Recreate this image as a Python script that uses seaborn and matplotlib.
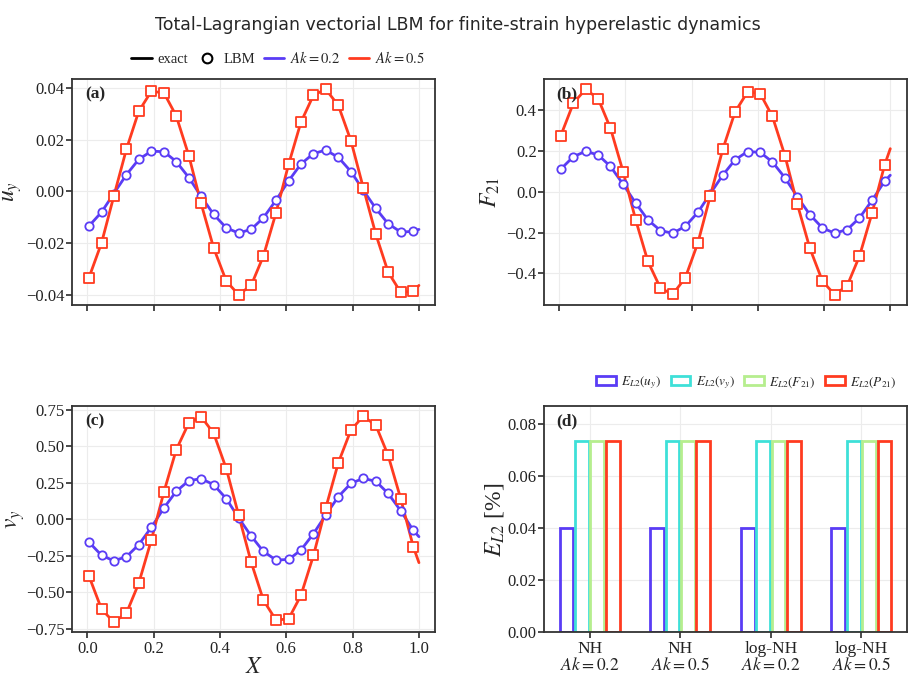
import numpy as np
import pandas as pd
import matplotlib
matplotlib.use("Agg")
import matplotlib.pyplot as plt
from matplotlib.lines import Line2D
from matplotlib.patches import Patch
from matplotlib.ticker import FuncFormatter
import seaborn as sns

# marker positions (LBM samples) and end of exact curve
x_lbm = [0.005, 0.043, 0.080, 0.118, 0.155, 0.193, 0.231, 0.268, 0.306, 0.343,
         0.381, 0.419, 0.456, 0.494, 0.531, 0.569, 0.607, 0.644, 0.682, 0.719,
         0.757, 0.795, 0.832, 0.870, 0.907, 0.945, 0.983]
x_end = 1.0

# (a) u_y
uy_02 = [-0.0134, -0.0080, -0.0008, 0.0065, 0.0124, 0.0156, 0.0154, 0.0116, 0.0054,
         -0.0019, -0.0089, -0.0141, -0.0161, -0.0147, -0.0102, -0.0034, 0.0041, 0.0106,
         0.0147, 0.0160, 0.0132, 0.0077, 0.0005, -0.0066, -0.0125, -0.0157, -0.0155]
uy_02_end = -0.0147
uy_05 = [-0.0334, -0.0199, -0.0018, 0.0164, 0.0310, 0.0388, 0.0382, 0.0293, 0.0139,
         -0.0046, -0.0219, -0.0347, -0.0400, -0.0364, -0.0250, -0.0083, 0.0105, 0.0268,
         0.0373, 0.0396, 0.0333, 0.0196, 0.0015, -0.0166, -0.0312, -0.0391, -0.0386]
uy_05_end = -0.0364

# (b) F_21
f21_02 = [0.111, 0.172, 0.198, 0.180, 0.124, 0.037, -0.055, -0.138, -0.190, -0.203,
          -0.169, -0.101, -0.010, 0.081, 0.156, 0.197, 0.193, 0.146, 0.068, -0.024,
          -0.112, -0.177, -0.203, -0.185, -0.128, -0.042, 0.052]
f21_02_end = 0.081
f21_05 = [0.275, 0.434, 0.502, 0.455, 0.311, 0.099, -0.137, -0.341, -0.472, -0.502,
          -0.421, -0.250, -0.023, 0.207, 0.390, 0.489, 0.481, 0.369, 0.176, -0.059,
          -0.276, -0.437, -0.504, -0.459, -0.315, -0.104, 0.132]
f21_05_end = 0.211

# (c) v_y
vy_02 = [-0.156, -0.247, -0.284, -0.256, -0.174, -0.055, 0.078, 0.192, 0.265, 0.279,
         0.238, 0.142, 0.011, -0.114, -0.220, -0.279, -0.275, -0.211, -0.098, 0.030,
         0.156, 0.247, 0.281, 0.261, 0.178, 0.059, -0.076]
vy_02_end = -0.119
vy_05 = [-0.389, -0.616, -0.705, -0.643, -0.439, -0.142, 0.188, 0.476, 0.661, 0.705,
         0.590, 0.348, 0.032, -0.293, -0.554, -0.691, -0.682, -0.522, -0.247, 0.078,
         0.389, 0.613, 0.707, 0.645, 0.439, 0.142, -0.188]
vy_05_end = -0.297

# (d) errors
cases = ["NH\n$Ak=0.2$", "NH\n$Ak=0.5$", "log-NH\n$Ak=0.2$", "log-NH\n$Ak=0.5$"]
metrics = ["$E_{L2}(u_y)$", "$E_{L2}(v_y)$", "$E_{L2}(F_{21})$", "$E_{L2}(P_{21})$"]
err_uy = [0.040, 0.040, 0.040, 0.040]
err_vy = [0.0735, 0.0735, 0.0735, 0.0735]
err_f21 = [0.0735, 0.0735, 0.0735, 0.0735]
err_p21 = [0.0735, 0.0735, 0.0735, 0.0735]

c_blue = "#5a3cf5"
c_red = "#ff3b20"
bar_colors = ["#5a3cf5", "#3ee0d8", "#b6ee8e", "#ff3b20"]

sns.set_theme(style="whitegrid")
plt.rcParams.update({
    "font.family": "serif",
    "font.serif": ["Liberation Serif", "DejaVu Serif"],
    "mathtext.fontset": "stix",
    "axes.edgecolor": "#333333",
    "axes.linewidth": 1.3,
    "grid.color": "#ececec",
    "grid.linewidth": 0.8,
    "xtick.bottom": True,
    "ytick.left": True,
    "xtick.major.size": 4,
    "ytick.major.size": 4,
    "xtick.major.pad": 2,
    "ytick.major.pad": 1.5,
    "xtick.color": "#333333",
    "ytick.color": "#333333",
    "xtick.labelcolor": "#222222",
    "ytick.labelcolor": "#222222",
    "xtick.labelsize": 12,
    "ytick.labelsize": 12,
})


def fmt(nd):
    return FuncFormatter(lambda v, p: f"{v:.{nd}f}".replace("-", "\u2212"))


fig = plt.figure(figsize=(9.15, 6.8), dpi=100)
ax_a = fig.add_axes([0.0792, 0.5515, 0.3967, 0.3324])
ax_b = fig.add_axes([0.5949, 0.5515, 0.3961, 0.3324], sharex=ax_a)
ax_c = fig.add_axes([0.0792, 0.0699, 0.3967, 0.3331], sharex=ax_a)
ax_d = fig.add_axes([0.5949, 0.0699, 0.3961, 0.3331])


def draw_panel(ax, y02, y02_end, y05, y05_end):
    for y, yend, col, mk, ms in [(y02, y02_end, c_blue, "o", 36),
                                 (y05, y05_end, c_red, "s", 42)]:
        sns.lineplot(x=x_lbm + [x_end], y=y + [yend], color=col, lw=2.0,
                     sort=False, ax=ax, zorder=2)
        sns.scatterplot(x=x_lbm, y=y, marker=mk, s=ms, facecolor="white",
                        edgecolor=col, linewidth=1.3, ax=ax, zorder=3)


draw_panel(ax_a, uy_02, uy_02_end, uy_05, uy_05_end)
draw_panel(ax_b, f21_02, f21_02_end, f21_05, f21_05_end)
draw_panel(ax_c, vy_02, vy_02_end, vy_05, vy_05_end)

ax_a.set_ylabel("$u_y$", fontsize=17)
ax_b.set_ylabel("$F_{21}$", fontsize=17)
ax_c.set_ylabel("$v_y$", fontsize=17)
ax_c.set_xlabel("$X$", fontsize=17, labelpad=0)
ax_a.yaxis.set_label_coords(-0.134, 0.5)
ax_c.yaxis.set_label_coords(-0.126, 0.5)
ax_b.yaxis.set_label_coords(-0.117, 0.5)
ax_a.set_xticks([0.0, 0.2, 0.4, 0.6, 0.8, 1.0])
ax_a.set_yticks([-0.04, -0.02, 0.0, 0.02, 0.04])
ax_b.set_yticks([-0.4, -0.2, 0.0, 0.2, 0.4])
ax_c.set_yticks([-0.75, -0.5, -0.25, 0.0, 0.25, 0.5, 0.75])
ax_a.yaxis.set_major_formatter(fmt(2))
ax_b.yaxis.set_major_formatter(fmt(1))
ax_c.yaxis.set_major_formatter(fmt(2))
ax_c.xaxis.set_major_formatter(fmt(1))
ax_a.tick_params(labelbottom=False)
ax_b.tick_params(labelbottom=False)
ax_a.set_xlabel("")
ax_b.set_xlabel("")

# (d) bars
df = pd.DataFrame({
    "case": cases * 4,
    "metric": [m for m in metrics for _ in cases],
    "err": err_uy + err_vy + err_f21 + err_p21,
})
sns.barplot(data=df, x="case", y="err", hue="metric", palette=bar_colors,
            fill=False, width=0.68, gap=0.1, linewidth=2.0, ax=ax_d,
            legend=False, errorbar=None)
ax_d.set_ylim(0, 0.0868)
ax_d.set_xlim(-0.5, 3.5)
ax_d.set_yticks([0.0, 0.02, 0.04, 0.06, 0.08])
ax_d.yaxis.set_major_formatter(fmt(2))
ax_d.set_xlabel("")
ax_d.set_ylabel("$E_{L2}$ [%]", fontsize=17)
ax_d.yaxis.set_label_coords(-0.106, 0.5)
ax_d.tick_params(axis="x", labelsize=12.5, pad=2)
for t in ax_d.get_xticklabels():
    t.set_linespacing(1.05)
ax_d.grid(True, axis="both")

for ax, lab in zip([ax_a, ax_b, ax_c, ax_d], ["(a)", "(b)", "(c)", "(d)"]):
    ax.text(0.034, 0.93, lab, transform=ax.transAxes, fontsize=12.5,
            fontweight="bold", ha="left", va="center", zorder=5)
    for s in ax.spines.values():
        s.set_visible(True)

handles = [Line2D([], [], color="black", lw=2),
           Line2D([], [], color="black", marker="o", ls="none", mfc="white",
                  mew=1.5, ms=7),
           Line2D([], [], color=c_blue, lw=2),
           Line2D([], [], color=c_red, lw=2)]
fig.legend(handles, ["exact", "LBM", "$Ak=0.2$", "$Ak=0.5$"], loc="center",
           bbox_to_anchor=(0.304, 0.9147), ncol=4, frameon=False, fontsize=10.5,
           handlelength=1.4, columnspacing=0.6, handletextpad=0.4)

bar_handles = [Patch(facecolor="white", edgecolor=c, lw=2) for c in bar_colors]
fig.legend(bar_handles, metrics, loc="center", bbox_to_anchor=(0.816, 0.437),
           ncol=4, frameon=False, fontsize=9.5, handlelength=1.5,
           columnspacing=0.7, handletextpad=0.4)

fig.suptitle("Total-Lagrangian vectorial LBM for finite-strain hyperelastic dynamics",
             y=0.977, fontsize=12.5, family="DejaVu Sans")

fig.savefig("out.png", dpi=100)
